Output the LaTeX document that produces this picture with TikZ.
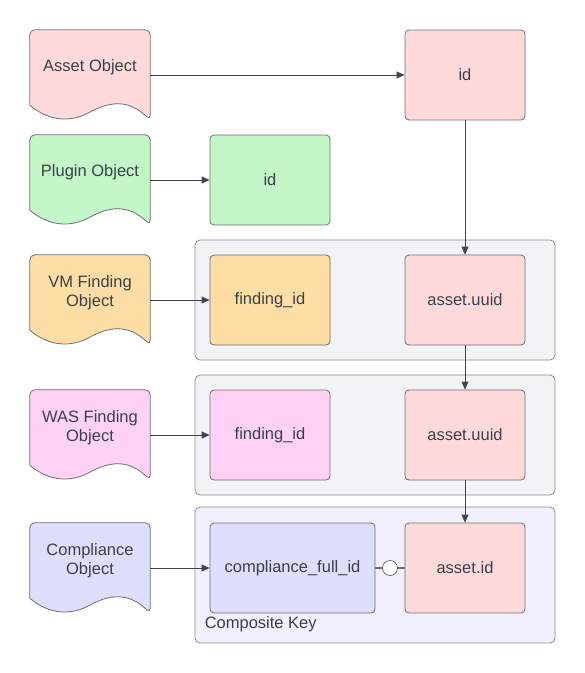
\documentclass[tikz,border=0pt]{standalone}
\usepackage{fontspec}
\setmainfont{Liberation Sans}
\usepackage{tikz}
\usetikzlibrary{arrows.meta,positioning,calc,backgrounds}

\definecolor{txtgray}{HTML}{3A414A}
\definecolor{edgegray}{HTML}{6F6F6F}
\definecolor{grpedge}{HTML}{8C8C8C}
\definecolor{linegray}{HTML}{3F4650}
\definecolor{redfill}{HTML}{FFDADA}
\definecolor{greenfill}{HTML}{C3F7C8}
\definecolor{orangefill}{HTML}{FFDEA6}
\definecolor{pinkfill}{HTML}{FFD1F4}
\definecolor{bluefill}{HTML}{DEDEFF}
\definecolor{grpfill}{HTML}{F2F3F5}
\definecolor{ckfill}{HTML}{F0F0FF}

% document shape with a wavy bottom, drawn round a named node
\newcommand{\docwave}[2]{%
  \filldraw[draw=edgegray,line width=0.8pt,fill=#2] (#1.south west) [rounded corners=5pt]
    -- (#1.north west) -- (#1.north east) -- ($(#1.south east)+(0,15)$) [sharp corners]
    .. controls ($(#1.south west)+(98,-7)$) and ($(#1.south west)+(78,-3)$) .. ($(#1.south west)+(60,7)$)
    .. controls ($(#1.south west)+(42,17)$) and ($(#1.south west)+(20,17)$) .. cycle;}

\begin{document}
\begin{tikzpicture}[x=1pt,y=-1pt,
  font=\fontsize{16.5}{19.5}\selectfont, text=txtgray,
  field/.style={draw=edgegray, line width=0.8pt, rounded corners=4pt, minimum width=120, minimum height=90},
  docobj/.style={minimum width=120, minimum height=75, align=center, inner sep=0pt},
  group/.style={draw=grpedge, line width=0.8pt, rounded corners=5pt, fill=grpfill, minimum width=360, minimum height=120},
  link/.style={draw=linegray, line width=0.8pt, -{Triangle[length=8pt,width=7pt]}},
  knot/.style={circle, draw=edgegray, line width=0.8pt, fill=white, minimum size=15, inner sep=0pt}]
  \useasboundingbox (0,0) rectangle (585,673);

  % key groups
  \node[group] (grpvm) at (375,300) {};
  \node[group] (grpwas) at (375,435) {};
  \node[group, fill=ckfill, minimum height=136] (grpck) at (375,575) {};
  \node[anchor=south west, inner sep=0pt] (cklabel) at ($(grpck.south west)+(10,-11)$) {Composite Key};

  % fields
  \node[field, fill=redfill] (assetid) at (465,75) {id};
  \node[field, fill=greenfill] (pluginid) at (270,180) {id};
  \node[field, fill=orangefill] (vmfid) at (270,300) {finding\_id};
  \node[field, fill=redfill] (vmauuid) at (465,300) {asset.uuid};
  \node[field, fill=pinkfill] (wasfid) at (270,435) {finding\_id};
  \node[field, fill=redfill] (wasauuid) at (465,435) {asset.uuid};
  \node[field, fill=bluefill, minimum width=165] (compid) at (292.5,568) {compliance\_full\_id};
  \node[field, fill=redfill] (ckaid) at (465,568) {asset.id};

  % objects
  \node[docobj] (assetobj) at (90,67.5) {Asset Object};
  \node[docobj] (pluginobj) at (90,172.5) {Plugin Object};
  \node[docobj] (vmobj) at (90,292.5) {VM Finding\\Object};
  \node[docobj] (wasobj) at (90,427.5) {WAS Finding\\Object};
  \node[docobj] (compobj) at (90,560.5) {Compliance\\Object};
  \begin{scope}[on background layer]
    \foreach \n/\c in {assetobj/redfill, pluginobj/greenfill, vmobj/orangefill, wasobj/pinkfill, compobj/bluefill}
      \docwave{\n}{\c};
  \end{scope}

  % links
  \foreach \a/\b in {assetobj/assetid, pluginobj/pluginid, vmobj/vmfid, wasobj/wasfid, compobj/compid}
    \draw[link] ($(\a.east)+(0,7.5)$) -- (\b.west);
  \draw[link] (assetid) -- (vmauuid);
  \draw[link] (vmauuid) -- (wasauuid);
  \draw[link] (wasauuid) -- (ckaid);
  \draw[draw=edgegray, line width=1.2pt] (compid) -- (ckaid) node[knot, midway] (cklink) {};
\end{tikzpicture}
\end{document}
